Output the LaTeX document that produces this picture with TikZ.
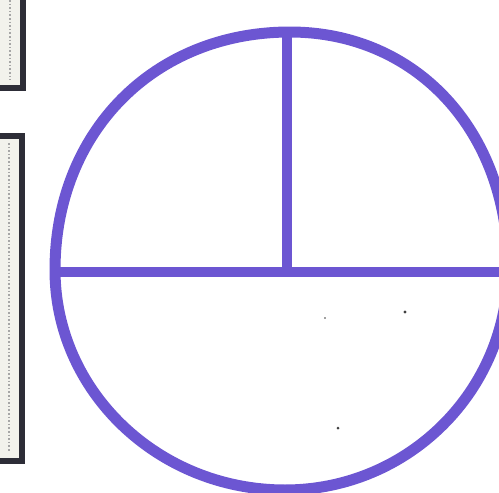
\documentclass[tikz,border=0pt]{standalone}
\definecolor{penpurple}{RGB}{108,86,210}
\definecolor{framedark}{RGB}{45,45,55}
\definecolor{framelight}{RGB}{242,242,236}
\tikzset{
  pen/.style={draw=penpurple, line width=11pt},
  framebox/.style={draw=framedark, line width=6pt, fill=framelight},
  framedots/.style={draw=gray!70, line width=1.6pt, dotted},
  speck/.style={fill=black!75}
}
\begin{document}
\begin{tikzpicture}[x=1pt,y=-1pt]
\useasboundingbox (0,0) rectangle (499,493);
\clip (0,0) rectangle (499,493);
% left frame pieces
\draw[framebox] (-10,-10) rectangle (23,88);
\draw[framedots] (10,0) -- (10,80);
\draw[framebox] (-10,136) rectangle (22,461);
\draw[framedots] (9,143) -- (9,452);
% hand-drawn circle
\coordinate (T) at (290,32);
\coordinate (R) at (508,268);
\coordinate (B) at (285,490);
\coordinate (L) at (55,270);
\draw[pen] (T) .. controls (416,32) and (508,131) .. (R)
               .. controls (508,391) and (408,490) .. (B)
               .. controls (158,490) and (55,391) .. (L)
               .. controls (55,132) and (154,32) .. (T) -- cycle;
\coordinate (top) at (287,36);
\coordinate (mid) at (287,272);
\coordinate (left) at (58,272);
\coordinate (right) at (510,272);
\draw[pen, line width=9.5pt] (left) -- (right);
\draw[pen, line width=10.5pt] (top) -- (mid);
% specks
\fill[speck] (405,312) circle (1.6);
\fill[speck] (325,318) circle (0.9);
\fill[speck] (338,428) circle (1.5);
\end{tikzpicture}
\end{document}
